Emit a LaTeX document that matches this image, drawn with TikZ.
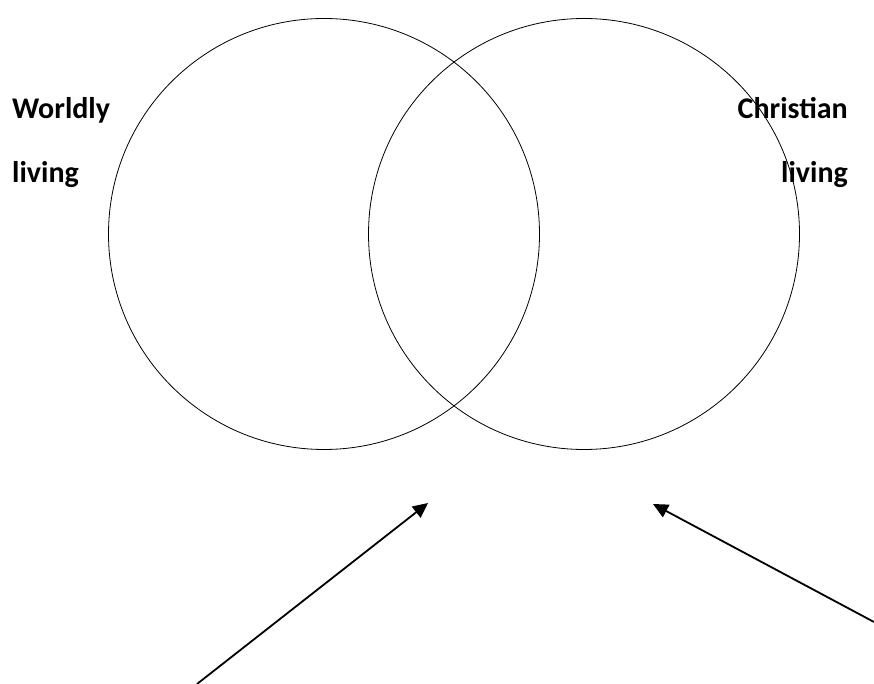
\documentclass[tikz,border=0pt]{standalone}
\usepackage{fontspec}
\setmainfont{Carlito}
\usetikzlibrary{arrows.meta}
\begin{document}
\begin{tikzpicture}[x=1pt,y=1pt,
  ring/.style={circle, draw, line width=0.8pt, minimum size=431pt, inner sep=0pt},
  lbl/.style={font=\bfseries\fontsize{30}{34}\selectfont, inner sep=0pt},
  pointer/.style={line width=1.8pt, -{Triangle[length=15pt,width=14pt]}}]
\useasboundingbox (0,0) rectangle (874,684);
\node[ring] (L) at (324,450) {};
\node[ring] (R) at (584,450) {};
\node[lbl, anchor=base west] (w1) at (12,565) {Worldly};
\node[lbl, anchor=base west] (w2) at (12,501) {living};
\node[lbl, anchor=base east] (c1) at (848,565) {Christian};
\node[lbl, anchor=base east] (c2) at (848,501) {living};
\coordinate (a1s) at (197,0);
\coordinate (a1e) at (428,181);
\coordinate (a2s) at (874,62);
\coordinate (a2e) at (653,180);
\draw[pointer] (a1s) -- (a1e);
\draw[pointer] (a2s) -- (a2e);
\end{tikzpicture}
\end{document}
